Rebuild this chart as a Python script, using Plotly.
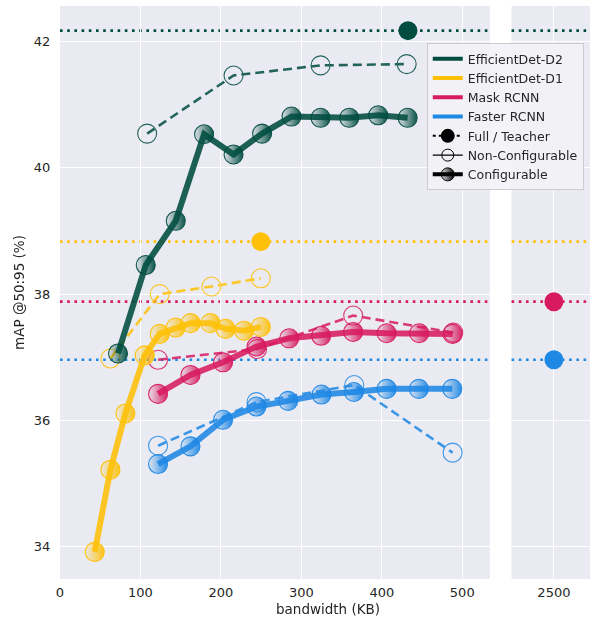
import plotly.graph_objects as go

# ---- data: bandwidth (KB) vs mAP@50:95 (%) ----
models = ["EfficientDet-D2", "EfficientDet-D1", "Mask RCNN", "Faster RCNN"]
colors = {"EfficientDet-D2": "#004D40", "EfficientDet-D1": "#FFC107",
          "Mask RCNN": "#D81B60", "Faster RCNN": "#1E88E5"}

d2_cfg_bw = [72.1, 106.6, 143.9, 179.1, 215.7, 251.2, 287.8, 323.9, 359.5, 395.5, 432.1]
d2_cfg_map = [37.06, 38.46, 39.16, 40.53, 40.21, 40.54, 40.81, 40.79, 40.79, 40.83, 40.79]
d2_non_bw = [108.3, 215.7, 323.9, 430.9]
d2_non_map = [40.54, 41.46, 41.62, 41.64]
d2_full_bw = [432.5]
d2_full_map = [42.17]

d1_cfg_bw = [43.2, 62.7, 81.3, 105.3, 124.0, 143.9, 162.4, 187.0, 205.7, 228.8, 249.6]
d1_cfg_map = [33.92, 35.22, 36.11, 37.03, 37.37, 37.47, 37.54, 37.54, 37.45, 37.42, 37.48]
d1_non_bw = [62.7, 124.0, 188.3, 249.6]
d1_non_map = [36.98, 38.00, 38.12, 38.25]
d1_full_bw = [249.6]
d1_full_map = [38.83]

mask_cfg_bw = [121.9, 162.2, 202.7, 244.3, 284.9, 324.6, 364.4, 406.0, 446.5, 488.0]
mask_cfg_map = [36.42, 36.72, 36.92, 37.17, 37.30, 37.34, 37.40, 37.38, 37.38, 37.37]
mask_non_bw = [121.9, 245.0, 364.4, 488.8]
mask_non_map = [36.96, 37.13, 37.66, 37.39]
mask_full_bw = [2500]
mask_full_map = [37.88]

faster_cfg_bw = [121.9, 162.2, 202.7, 244.3, 283.6, 325.1, 365.3, 406.0, 446.1, 487.6]
faster_cfg_map = [35.31, 35.59, 36.01, 36.22, 36.31, 36.41, 36.45, 36.50, 36.50, 36.50]
faster_non_bw = [121.9, 244.3, 365.7, 488.0]
faster_non_map = [35.60, 36.29, 36.56, 35.49]
faster_full_bw = [2500]
faster_full_map = [36.96]

series = {
    "EfficientDet-D2": (d2_cfg_bw, d2_cfg_map, d2_non_bw, d2_non_map, d2_full_bw, d2_full_map),
    "EfficientDet-D1": (d1_cfg_bw, d1_cfg_map, d1_non_bw, d1_non_map, d1_full_bw, d1_full_map),
    "Mask RCNN": (mask_cfg_bw, mask_cfg_map, mask_non_bw, mask_non_map, mask_full_bw, mask_full_map),
    "Faster RCNN": (faster_cfg_bw, faster_cfg_map, faster_non_bw, faster_non_map, faster_full_bw, faster_full_map),
}

legend_style = ["Full / Teacher", "Non-Configurable", "Configurable"]

FONT = "DejaVu Sans"
TXT = "#262626"


def rgba(hex_color, a):
    h = hex_color.lstrip("#")
    r, g, b = int(h[0:2], 16), int(h[2:4], 16), int(h[4:6], 16)
    return f"rgba({r},{g},{b},{a})"


fig = go.Figure()
shapes = []

# draw back-to-front so EfficientDet-D2 ends up on top
for name in ["Faster RCNN", "Mask RCNN", "EfficientDet-D1", "EfficientDet-D2"]:
    c = colors[name]
    cfg_bw, cfg_map, non_bw, non_map, full_bw, full_map = series[name]
    # teacher level as a dotted line across both panels
    for ref in ("x domain", "x2 domain"):
        shapes.append(dict(type="line", xref=ref, yref="y", x0=0, x1=1,
                           y0=full_map[0], y1=full_map[0], layer="below",
                           line=dict(color=c, width=2.6, dash="2.6px,4.6px")))
    # non-configurable: dashed line with open circles
    fig.add_trace(go.Scatter(x=non_bw, y=non_map, mode="lines+markers", showlegend=False,
                             opacity=0.85,
                             line=dict(color=c, width=2.6, dash="9px,5px"),
                             marker=dict(symbol="circle-open", size=19,
                                         line=dict(color=c, width=1.1))))
    # configurable: thick solid line with left-shaded circles
    fig.add_trace(go.Scatter(x=cfg_bw, y=cfg_map, mode="lines", showlegend=False,
                             opacity=0.88, line=dict(color=c, width=6)))
    fig.add_trace(go.Scatter(x=cfg_bw, y=cfg_map, mode="markers", showlegend=False,
                             opacity=0.95,
                             marker=dict(symbol="circle", size=19, color=rgba(c, 0.05),
                                         gradient=dict(type="horizontal", color=c),
                                         line=dict(color=c, width=1.1))))
    # full / teacher model
    xa = "x2" if full_bw[0] > 1000 else "x"
    fig.add_trace(go.Scatter(x=full_bw, y=full_map, mode="markers", showlegend=False,
                             xaxis=xa, yaxis="y",
                             marker=dict(symbol="circle", size=19, color=c)))

# legend entries
for name in models:
    fig.add_trace(go.Scatter(x=[None], y=[None], mode="lines", name=name,
                             line=dict(color=colors[name], width=4)))
fig.add_trace(go.Scatter(x=[None], y=[None], mode="lines+markers", name=legend_style[0],
                         line=dict(color="black", width=2, dash="dot"),
                         marker=dict(symbol="circle", size=14, color="black")))
fig.add_trace(go.Scatter(x=[None], y=[None], mode="lines+markers", name=legend_style[1],
                         line=dict(color="black", width=1.2),
                         marker=dict(symbol="circle-open", size=12, line=dict(color="black", width=1))))
fig.add_trace(go.Scatter(x=[None], y=[None], mode="lines+markers", name=legend_style[2],
                         line=dict(color="black", width=4),
                         marker=dict(symbol="circle", size=13, color="rgba(0,0,0,0.05)",
                                     gradient=dict(type="horizontal", color="black"),
                                     line=dict(color="black", width=1))))

axis_common = dict(showgrid=True, gridcolor="white", gridwidth=1, zeroline=False,
                   showline=False, tickfont=dict(family=FONT, size=13, color=TXT))

fig.update_layout(
    width=590, height=619,
    margin=dict(l=60.3, r=0, t=6, b=40),
    paper_bgcolor="white", plot_bgcolor="#EAEAF2",
    font=dict(family=FONT, color=TXT),
    shapes=shapes,
    xaxis=dict(domain=[0, 0.8112], range=[0, 534.4], tickvals=[0, 100, 200, 300, 400, 500],
               anchor="y", ticks="outside", ticklen=1, tickcolor="rgba(0,0,0,0)",
               **axis_common),
    xaxis2=dict(domain=[0.852, 1.0], range=[2338, 2638], tickvals=[2500],
                anchor="y", ticks="outside", ticklen=1, tickcolor="rgba(0,0,0,0)",
                **axis_common),
    yaxis=dict(range=[33.49, 42.56], tickvals=[34, 36, 38, 40, 42],
               ticks="outside", ticklen=6, tickcolor="rgba(0,0,0,0)",
               title=dict(text="mAP @50:95 (%)", font=dict(family=FONT, size=13.5, color=TXT),
                          standoff=6),
               **axis_common),
    legend=dict(x=0.692, y=0.935, xanchor="left", yanchor="top",
                bgcolor="rgba(242,242,247,0.85)", bordercolor="#CCCCCC", borderwidth=1,
                font=dict(family=FONT, size=12.5, color=TXT), tracegroupgap=0),
    annotations=[dict(text="bandwidth (KB)", xref="paper", yref="paper", x=0.505, y=-0.0524,
                      xanchor="center", yanchor="middle", showarrow=False,
                      font=dict(family=FONT, size=13.5, color=TXT))],
    showlegend=True,
)

fig.write_html("out.html")
